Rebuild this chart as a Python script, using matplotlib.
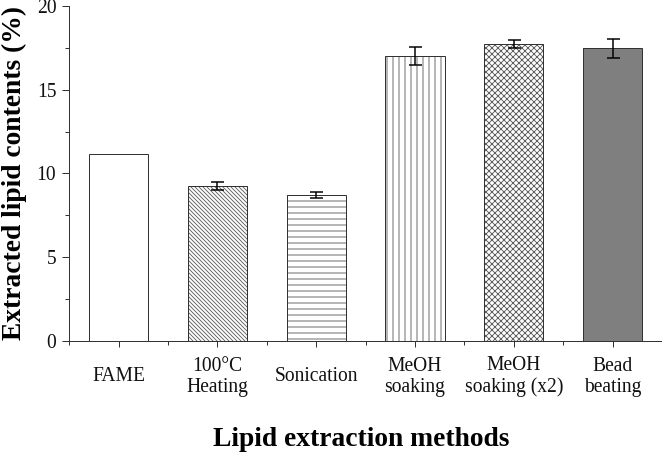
import matplotlib
matplotlib.use("Agg")
import matplotlib.pyplot as plt
from matplotlib.ticker import MultipleLocator, FixedLocator

categories = ["FAME", "100\u00b0C\nHeating", "Sonication", "MeOH\nsoaking",
              "MeOH\nsoaking (x2)", "Bead\nbeating"]
values = [11.16, 9.24, 8.72, 17.01, 17.73, 17.47]
errors = [0.0, 0.25, 0.17, 0.52, 0.21, 0.55]
hatches = ["", "\\" * 6, "--", "||", "xxxx", ""]
facecolors = ["white", "white", "white", "white", "white", "#7f7f7f"]

plt.rcParams['font.family'] = ['Liberation Serif', 'DejaVu Serif']
plt.rcParams['hatch.linewidth'] = 0.9

DPI = 72
fig = plt.figure(figsize=(662 / DPI, 454 / DPI), dpi=DPI)
ax = fig.add_axes([69.3 / 662, 1 - 340.7 / 454, (662 - 69.3) / 662, (340.7 - 6) / 454])

x = list(range(len(categories)))
# hatch layer
ax.bar(x, values, width=0.6, color=facecolors, edgecolor="#606060",
       linewidth=0, hatch=hatches, zorder=2)
# outline layer
ax.bar(x, values, width=0.6, facecolor="none", edgecolor="#333333",
       linewidth=1.0, zorder=3)
ax.errorbar([xi for xi, e in zip(x, errors) if e > 0],
            [v for v, e in zip(values, errors) if e > 0],
            yerr=[e for e in errors if e > 0], fmt="none", ecolor="black",
            elinewidth=1.5, capsize=6.5, capthick=1.5, zorder=4)

ax.set_xlim(-0.5, 5.5)
ax.set_ylim(0, 20)
ax.spines['top'].set_visible(False)
ax.spines['right'].set_visible(False)
for s in ('left', 'bottom'):
    ax.spines[s].set_linewidth(1.0)
    ax.spines[s].set_color('#333333')

ax.yaxis.set_major_locator(MultipleLocator(5))
ax.yaxis.set_minor_locator(MultipleLocator(2.5))
ax.xaxis.set_major_locator(FixedLocator(x))
ax.xaxis.set_minor_locator(FixedLocator([i - 0.5 for i in range(len(categories) + 1)]))
ax.set_xticklabels(categories, linespacing=1.15, va='center')

ax.tick_params(axis='both', which='major', direction='out', width=1.0,
               color='#333333', labelsize=19.5, labelcolor='#111111')
ax.tick_params(axis='y', which='major', length=7, pad=6)
ax.tick_params(axis='x', which='major', length=6, pad=30)
ax.tick_params(axis='both', which='minor', direction='out', width=1.0,
               length=4, color='#333333')

fig.text(361 / 662, 1 - 446 / 454, "Lipid extraction methods", fontsize=27.5,
         fontweight='bold', ha='center', va='baseline')
fig.text(14 / 662, 1 - 173.5 / 454, "Extracted lipid contents (%)", fontsize=27.5,
         fontweight='bold', ha='center', va='center', rotation=90)

fig.savefig("out.png", dpi=DPI, facecolor="white")
